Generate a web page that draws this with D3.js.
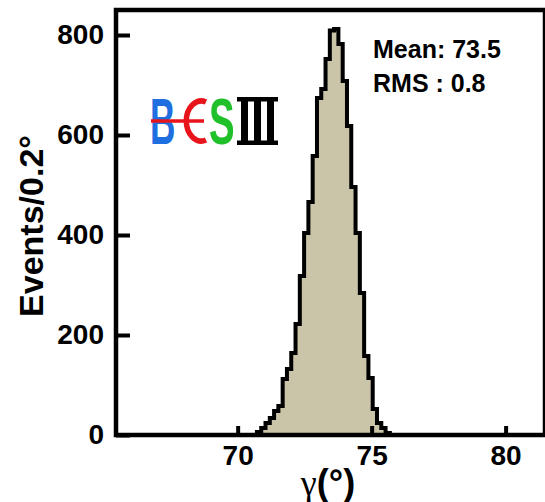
<!DOCTYPE html>
<html>
<head>
<meta charset="utf-8">
<script src="https://cdn.jsdelivr.net/npm/d3@7"></script>
<style>
  body { margin: 0; background: #fff; }
  svg { display: block; font-family: "Liberation Sans", Arial, Helvetica, sans-serif; font-weight: bold; }
</style>
</head>
<body>
<script>
// histogram of gamma angle, bins
const binStart = 70.72;
const binWidth = 0.16;
const counts = [6, 14, 24, 34, 48, 58, 112, 132, 164, 222, 318, 404, 466, 558, 674, 692, 752,
                809, 812,
                782, 708, 618, 496, 404, 284, 158, 114, 52, 24, 14, 4];
const xTicks = [70, 75, 80];
const yTicks = [0, 200, 400, 600, 800];
const statLines = ["Mean: 73.5", "RMS : 0.8"];

const width = 545, height = 502;
const plotLeft = 116, plotRight = 545, plotTop = 10, plotBottom = 435;

const svg = d3.select("body").append("svg")
  .attr("width", width).attr("height", height);

const x = d3.scaleLinear().domain([65.46, 81.47]).range([plotLeft, plotRight]);
const y = d3.scaleLinear().domain([0, 850]).range([plotBottom, plotTop]);

//histogram as a step outline
const pts = [[x(binStart), y(0)]];
counts.forEach((c, i) => {
  const lo = binStart + i * binWidth;
  pts.push([x(lo), y(c)]);
  pts.push([x(lo + binWidth), y(c)]);
});
pts.push([x(binStart + counts.length * binWidth), y(0)]);

svg.append("path")
  .attr("d", d3.line()(pts) + "Z")
  .attr("fill", "#cac5a9")
  .attr("stroke", "#000")
  .attr("stroke-width", 4)
  .attr("stroke-linejoin", "miter");

//axes
const xAxis = svg.append("g")
  .attr("transform", `translate(0,${plotBottom})`)
  .call(d3.axisBottom(x).tickValues(xTicks).tickSize(-9).tickPadding(10));
xAxis.select(".domain").remove();
xAxis.selectAll("line").attr("stroke-width", 4);
xAxis.selectAll("text").style("font-size", "28px").attr("font-family", null);

const yAxis = svg.append("g")
  .attr("transform", `translate(${plotLeft},0)`)
  .call(d3.axisLeft(y).tickValues(yTicks).tickSize(-14).tickPadding(12));
yAxis.select(".domain").remove();
yAxis.selectAll("line").attr("stroke-width", 4);
yAxis.selectAll("text").style("font-size", "28px").attr("font-family", null);

//frame
svg.append("rect")
  .attr("x", plotLeft).attr("y", plotTop)
  .attr("width", plotRight - plotLeft).attr("height", plotBottom - plotTop)
  .attr("fill", "none").attr("stroke", "#000").attr("stroke-width", 4.5);

//axis titles
const xt = svg.append("text")
  .attr("x", 328).attr("y", 495)
  .attr("text-anchor", "middle")
  .style("font-size", "36px");
xt.append("tspan").attr("font-family", "Liberation Serif, serif").attr("font-weight", "normal").text("γ");
xt.append("tspan").text("(°)");

svg.append("text")
  .attr("transform", "translate(43,226) rotate(-90)")
  .attr("text-anchor", "middle")
  .style("font-size", "34px")
  .text("Events/0.2°");

//stats box text
statLines.forEach((t, i) => {
  svg.append("text")
    .attr("x", 373).attr("y", 58 + i * 34)
    .style("font-size", "25px")
    .text(t);
});

//BESIII logo
const logo = svg.append("g");
logo.append("text")
  .attr("transform", "translate(150,144) scale(0.55,1)")
  .style("font-size", "64px")
  .attr("fill", "#1f6fe0")
  .text("B");
logo.append("path")
  .attr("d", "M 206 102 A 15 20 0 1 0 206 140")
  .attr("fill", "none").attr("stroke", "#e8141c").attr("stroke-width", 5.5);
logo.append("line")
  .attr("x1", 151).attr("x2", 204).attr("y1", 121).attr("y2", 121)
  .attr("stroke", "#e8141c").attr("stroke-width", 3.5);
logo.append("text")
  .attr("transform", "translate(209,144) scale(0.6,1)")
  .style("font-size", "64px")
  .attr("fill", "#1fc02a")
  .text("S");
//roman three
logo.append("rect").attr("x", 237).attr("y", 97).attr("width", 41).attr("height", 4.5);
logo.append("rect").attr("x", 237).attr("y", 140.5).attr("width", 41).attr("height", 4.5);
[241, 254, 267].forEach(v => {
  logo.append("rect").attr("x", v).attr("y", 97).attr("width", 7).attr("height", 48);
});
</script>
</body>
</html>
